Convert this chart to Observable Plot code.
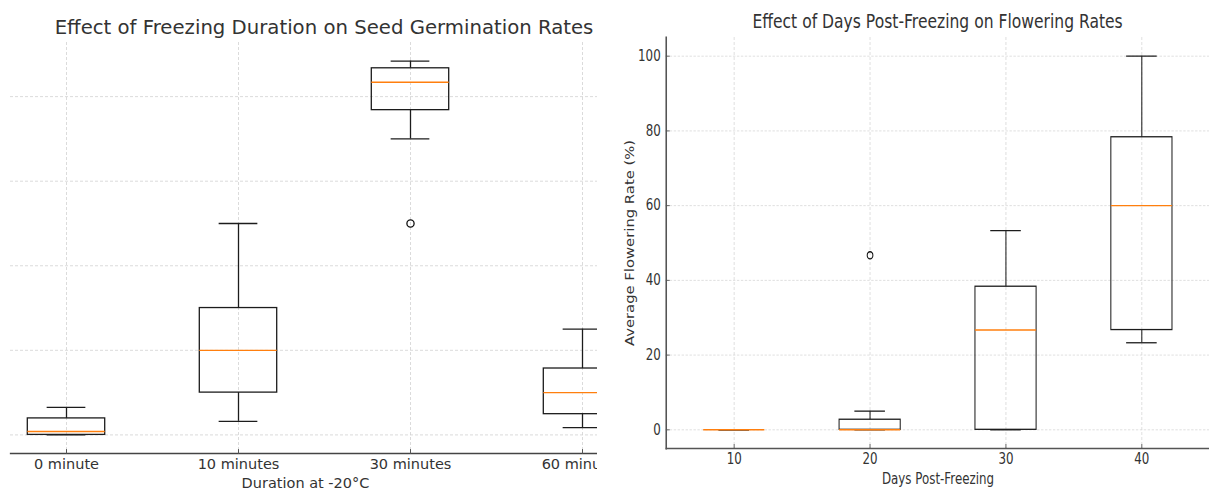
<!DOCTYPE html>
<html><head><meta charset="utf-8">
<script src="https://cdn.jsdelivr.net/npm/d3@7"></script>
<script src="https://cdn.jsdelivr.net/npm/@observablehq/plot@0.6"></script>
<style>
html,body{margin:0;padding:0;background:#fff;}
#root{position:relative;width:1209px;height:491px;overflow:hidden;font-family:"DejaVu Sans",sans-serif;}
.panel{position:absolute;top:0;height:491px;}
#left{left:0;width:597px;overflow:hidden;}
#right{left:605px;width:765px;transform:scaleX(0.79);transform-origin:0 0;}
.title{color:#333;font-size:19.7px;text-align:center;white-space:nowrap;}
#left .title{width:648px;height:40px;line-height:56px;}
#right .title{margin-left:77px;width:688px;height:35px;line-height:44px;}
#root svg{display:block;max-width:none;}
</style></head>
<body>
<div id="root">
  <div id="left" class="panel"><div class="title">Effect of Freezing Duration on Seed Germination Rates</div></div>
  <div id="right" class="panel"><div class="title">Effect of Days Post-Freezing on Flowering Rates</div></div>
</div>
<script>
// ---- Left chart: seed germination (box statistics) ----
const germCategories = ["0 minute", "10 minutes", "30 minutes", "60 minutes"];
const germQ1     = [0,   10,  76.8, 4.9];
const germMedian = [0.8, 20,  83.4, 10];
const germQ3     = [3.9, 30,  86.7, 15.7];
const germLow    = [0,   3.2, 70,   1.7];
const germHigh   = [6.5, 50,  88.4, 25];
const germOutlierCategory = ["30 minutes"];
const germOutlierValue    = [50];
const germYTicks = [0, 20, 40, 60, 80];

// ---- Right chart: flowering rates ----
const flowerDays   = ["10", "20", "30", "40"];
const flowerQ1     = [0, 0,   0,    26.7];
const flowerMedian = [0, 0,   26.7, 60];
const flowerQ3     = [0, 2.7, 38.3, 78.3];
const flowerLow    = [0, 0,   0,    23.3];
const flowerHigh   = [0, 5,   53.3, 100];
const flowerOutlierDay   = ["20"];
const flowerOutlierValue = [46.7];
const flowerYTicks = [0, 20, 40, 60, 80, 100];

const BOX_HALF = 0.225, CAP_HALF = 0.1125;
const boxColor = "#1c1c1c", medianColor = "#ff7f0e";
const gridStyle = {stroke: "#d2d2d2", strokeOpacity: 1, strokeDasharray: "3,2", strokeWidth: 0.8};
const tickShape = {draw(ctx, l) { ctx.moveTo(0, 0); ctx.lineTo(0, -l); }};

function rowsOf(cats, q1, med, q3, lo, hi) {
  return cats.map((c, i) => ({pos: i + 1, q1: q1[i], med: med[i], q3: q3[i], lo: lo[i], hi: hi[i]}));
}
function boxMarks(rows, outliers) {
  return [
    Plot.ruleX(rows, {x: "pos", y1: "q3", y2: "hi", stroke: boxColor, strokeWidth: 1.3}),
    Plot.ruleX(rows, {x: "pos", y1: "lo", y2: "q1", stroke: boxColor, strokeWidth: 1.3}),
    Plot.ruleY(rows, {y: "hi", x1: d => d.pos - CAP_HALF, x2: d => d.pos + CAP_HALF, stroke: boxColor, strokeWidth: 1.3}),
    Plot.ruleY(rows, {y: "lo", x1: d => d.pos - CAP_HALF, x2: d => d.pos + CAP_HALF, stroke: boxColor, strokeWidth: 1.3}),
    Plot.rect(rows, {x1: d => d.pos - BOX_HALF, x2: d => d.pos + BOX_HALF, y1: "q1", y2: "q3", fill: "none", stroke: boxColor, strokeWidth: 1.3}),
    Plot.ruleY(rows, {y: "med", x1: d => d.pos - BOX_HALF, x2: d => d.pos + BOX_HALF, stroke: medianColor, strokeWidth: 1.4}),
    Plot.dot(outliers, {x: "pos", y: "v", r: 3.6, stroke: "#111", strokeWidth: 1.3, fill: "none"})
  ];
}

const leftRows = rowsOf(germCategories, germQ1, germMedian, germQ3, germLow, germHigh);
const leftOut = germOutlierCategory.map((c, i) => ({pos: germCategories.indexOf(c) + 1, v: germOutlierValue[i]}));
const leftPos = germCategories.map((c, i) => i + 1);

const left = Plot.plot({
  width: 600, height: 451, marginLeft: 10, marginRight: 0, marginTop: 2, marginBottom: 38,
  style: {fontFamily: "DejaVu Sans", fontSize: "14.5px", color: "#333", background: "transparent"},
  x: {type: "linear", domain: [0.5, 4.5], range: [-20, 668]},
  y: {domain: [-4.4, 92.8], axis: null},
  marks: [
    Plot.gridX(leftPos, gridStyle),
    Plot.gridY(germYTicks, gridStyle),
    Plot.axisX(leftPos, {tickSize: 0, tickPadding: 5, tickFormat: d => germCategories[d - 1], fontSize: 14.5,
      label: "Duration at -20°C", labelAnchor: "center", labelArrow: "none", labelOffset: 34}),
    Plot.frame({anchor: "bottom", stroke: "#444", strokeWidth: 1.3}),
    Plot.vector(leftPos, {x: d => d, frameAnchor: "bottom", length: 4, anchor: "start", shape: tickShape, stroke: "#555", strokeWidth: 1}),
    ...boxMarks(leftRows, leftOut)
  ]
});
document.getElementById("left").appendChild(left);

const rightRows = rowsOf(flowerDays, flowerQ1, flowerMedian, flowerQ3, flowerLow, flowerHigh);
const rightOut = flowerOutlierDay.map((c, i) => ({pos: flowerDays.indexOf(c) + 1, v: flowerOutlierValue[i]}));
const rightPos = flowerDays.map((c, i) => i + 1);

const right = Plot.plot({
  width: 765, height: 456, marginLeft: 77, marginRight: 0, marginTop: 2, marginBottom: 43,
  style: {fontFamily: "DejaVu Sans", fontSize: "14.5px", color: "#333", background: "transparent"},
  x: {type: "linear", domain: [0.5, 4.5]},
  y: {domain: [-5, 105]},
  marks: [
    Plot.gridX(rightPos, gridStyle),
    Plot.gridY(flowerYTicks, gridStyle),
    Plot.axisX(rightPos, {tickSize: 0, tickPadding: 5, tickFormat: d => flowerDays[d - 1], fontSize: 15,
      label: "Days Post-Freezing", labelAnchor: "center", labelArrow: "none", labelOffset: 35}),
    Plot.axisY(flowerYTicks, {tickSize: 0, tickPadding: 7, fontSize: 15, label: null}),
    Plot.text(["Average Flowering Rate (%)"], {frameAnchor: "left", dx: -45, rotate: -90, textAnchor: "middle", lineAnchor: "middle", fontSize: 14.8, fill: "#333"}),
    Plot.frame({anchor: "left", stroke: "#555", strokeWidth: 2}),
    Plot.frame({anchor: "bottom", stroke: "#555", strokeWidth: 1.6}),
    Plot.vector(rightPos, {x: d => d, frameAnchor: "bottom", length: 4, anchor: "start", shape: tickShape, stroke: "#555", strokeWidth: 1}),
    Plot.vector(flowerYTicks, {y: d => d, frameAnchor: "left", rotate: 90, length: 4, anchor: "start", shape: tickShape, stroke: "#555", strokeWidth: 1}),
    ...boxMarks(rightRows, rightOut)
  ]
});
document.getElementById("right").appendChild(right);
</script>
</body></html>
